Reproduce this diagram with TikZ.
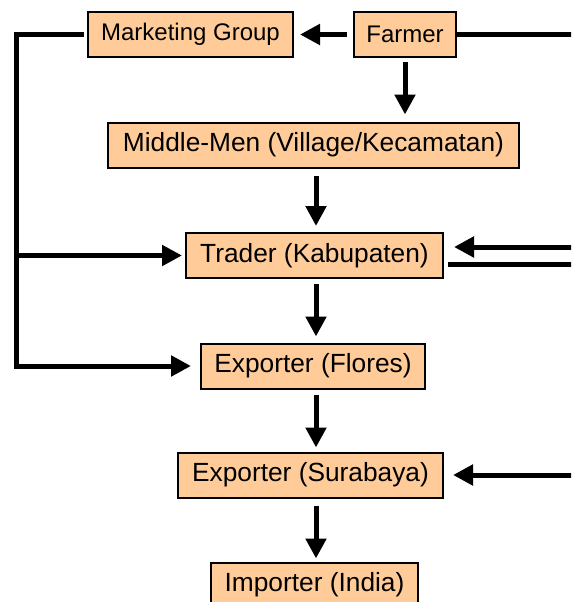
\documentclass[tikz,border=0pt]{standalone}
\usepackage{fontspec}
\setmainfont{Liberation Sans}
\usepackage{tikz}
\usetikzlibrary{positioning,arrows.meta,calc}
\definecolor{peach}{HTML}{FFCC99}
\tikzset{
  every node/.style={font=\fontsize{26.3}{30}\selectfont},
  stage/.style={
    rectangle, draw=black, fill=peach,
    line width=2pt, minimum height=45pt, inner sep=0pt
  },
  topstage/.style={stage, font=\fontsize{24}{28}\selectfont},
  flow/.style={
    -{Triangle[length=20pt,width=20pt]},
    line width=5pt, line join=miter
  },
  link/.style={line width=5pt, line join=miter},
}

\begin{document}
\begin{tikzpicture}[x=1pt,y=-1pt]
  \useasboundingbox (0,0) rectangle (571,602);
  \clip (0,0) rectangle (571,602);
  % chain boxes
  \node[topstage, minimum width=205pt] (mkt) at (190.5,34.5) {Marketing Group};
  \node[topstage, minimum width=102pt] (farmer) at (405,34.5) {Farmer};
  \node[stage, minimum width=411pt] (mid) at (313.5,145) {Middle-Men (Village/Kecamatan)};
  \node[stage, minimum width=257pt] (trader) at (314.5,255.5) {Trader (Kabupaten)};
  \node[stage, minimum width=224pt] (flores) at (313,366) {Exporter (Flores)};
  \node[stage, minimum width=265pt] (sura) at (310.5,475) {Exporter (Surabaya)};
  \node[stage, minimum width=207pt] (imp) at (314.5,585) {Importer (India)};
  \coordinate (spine) at (316,0);
  \coordinate (lcorner) at (16,34.5);
  \coordinate (eR) at (580,0);
  % main flow
  \draw[flow, shorten <=6pt, shorten >=6pt] (farmer.west) -- (mkt.east);
  \draw[flow, shorten <=4pt, shorten >=7pt] (farmer.south) -- (farmer.south |- mid.north);
  \draw[flow, shorten <=7pt, shorten >=6pt] (spine |- mid.south) -- (spine |- trader.north);
  \draw[flow, shorten <=5pt, shorten >=6pt] (spine |- trader.south) -- (spine |- flores.north);
  \draw[flow, shorten <=5pt, shorten >=4pt] (spine |- flores.south) -- (spine |- sura.north);
  \draw[flow, shorten <=7pt, shorten >=3pt] (spine |- sura.south) -- (spine |- imp.north);
  % marketing group bypass
  \draw[flow, shorten <=3pt, shorten >=9pt] (mkt.west) -- (lcorner) |- (flores.west);
  \draw[flow, shorten >=3pt] (lcorner |- trader.west) -- (trader.west);
  % lines from the right
  \draw[link] (farmer.east) -- (farmer.east -| eR);
  \draw[flow, shorten >=10pt] ([yshift=8.5pt]trader.east -| eR) -- ([yshift=8.5pt]trader.east);
  \draw[link, shorten <=4pt] ([yshift=-8.5pt]trader.east) -- ([yshift=-8.5pt]trader.east -| eR);
  \draw[flow, shorten >=9pt] (sura.east -| eR) -- (sura.east);
\end{tikzpicture}
\end{document}
